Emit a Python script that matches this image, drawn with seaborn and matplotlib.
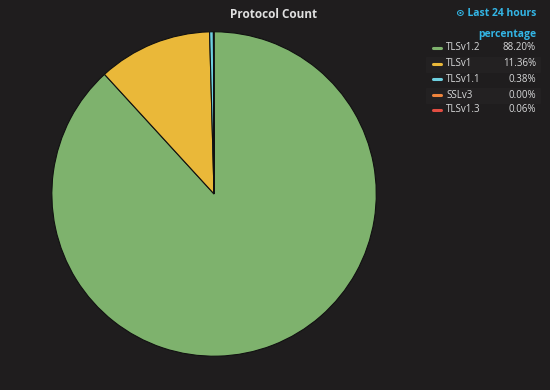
import matplotlib
matplotlib.use('Agg')
import matplotlib.pyplot as plt
import seaborn as sns

# --- data ---
protocols = ['TLSv1.2', 'TLSv1', 'TLSv1.1', 'SSLv3', 'TLSv1.3']
percentages = [88.20, 11.36, 0.38, 0.00, 0.06]
colors = ['#7eb26d', '#eab839', '#6ed0e0', '#ef843c', '#e24d42']

bg = '#1f1d1e'
sns.set_style('dark')
plt.rcParams['font.family'] = ['Open Sans', 'DejaVu Sans']

fig = plt.figure(figsize=(5.5, 3.9), dpi=100, facecolor=bg)
ax = fig.add_axes([0.0927, 0.0846, 0.593, 0.836])
ax.set_facecolor(bg)

palette = sns.color_palette(colors)
ax.pie(percentages, colors=palette, startangle=90, counterclock=False,
       wedgeprops={'edgecolor': '#111111', 'linewidth': 0.8})
ax.set_xlim(-1.005, 1.005)
ax.set_ylim(-1.005, 1.005)
ax.set_aspect('equal')
ax.axis('off')

# title and time range
fig.text(274 / 550, 1 - 15 / 390, 'Protocol Count', color='#e0e0e0', fontsize=8.5,
         fontweight='bold', ha='center', va='center')
fig.text(536 / 550, 1 - 14 / 390, '\u2299 Last 24 hours', color='#33b5e5', fontsize=7.5,
         fontweight='bold', ha='right', va='center')

# legend table
fig.text(536 / 550, 1 - 34 / 390, 'percentage', color='#33b5e5', fontsize=7.5,
         fontweight='bold', ha='right', va='center')
row_y = [48, 64, 79, 95, 110]
for i, (name, pct, c) in enumerate(zip(protocols, percentages, colors)):
    y = 1 - row_y[i] / 390
    if i % 2 == 1:
        fig.patches.append(plt.Rectangle((426 / 550, y - 7.5 / 390), 114 / 550, 15 / 390,
                                         transform=fig.transFigure, color='#232122', zorder=0))
    fig.add_artist(plt.Line2D([433 / 550, 441 / 550], [y, y], color=c, linewidth=2.2,
                              transform=fig.transFigure))
    fig.text(446 / 550, y, name, color='#d8d9da', fontsize=7, ha='left', va='center')
    fig.text(536 / 550, y, f'{pct:.2f}%', color='#d8d9da', fontsize=7, ha='right', va='center')

fig.savefig('out.png', dpi=100, facecolor=bg)
